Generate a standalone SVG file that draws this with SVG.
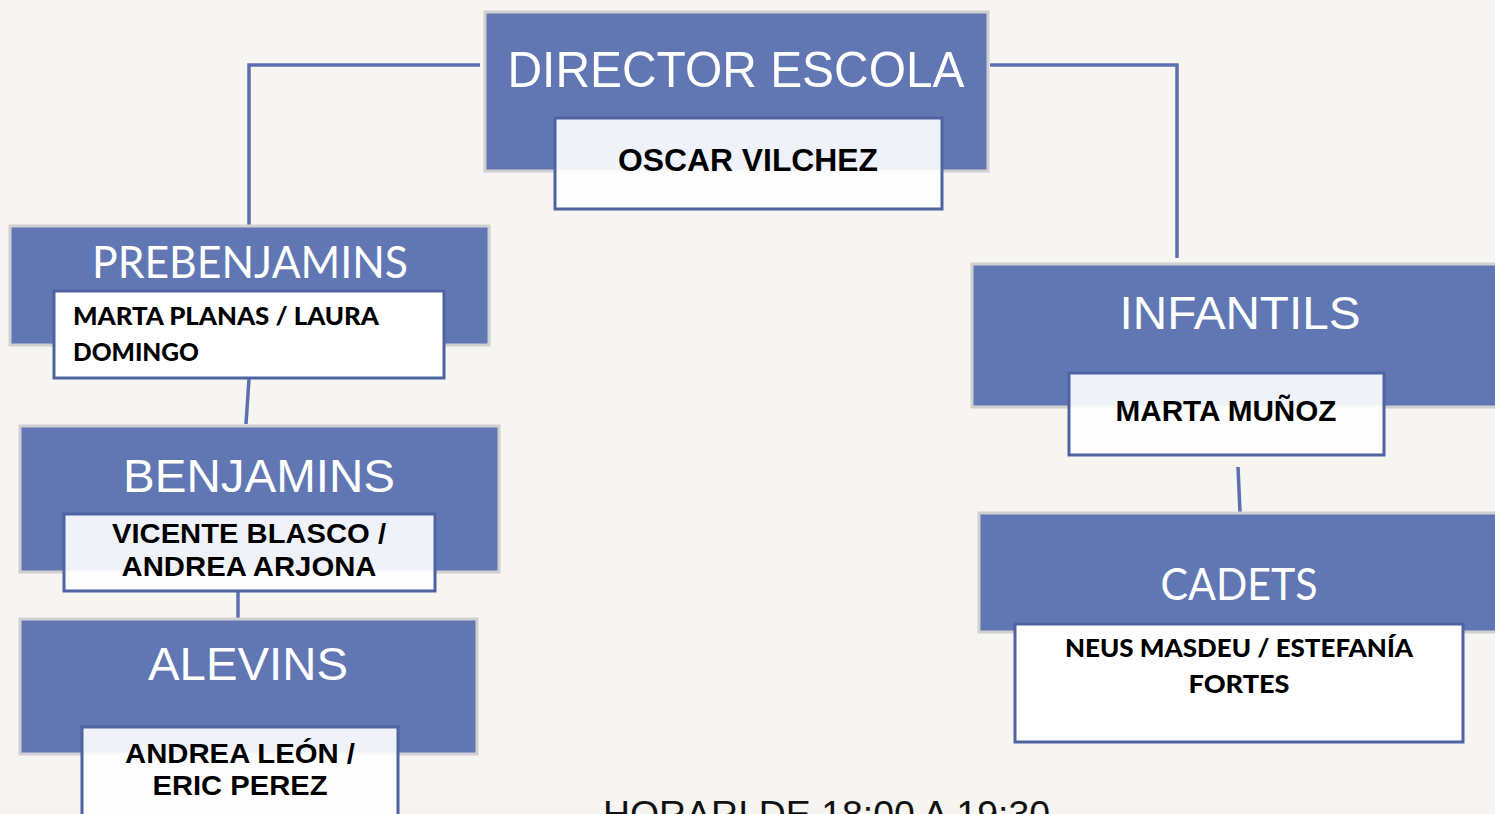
<svg xmlns="http://www.w3.org/2000/svg" width="1495" height="814" viewBox="0 0 1495 814">
<style>
.bg{fill:#f6f5f1}
.box{fill:#6077b4;stroke:#d0d0d0;stroke-width:3}
.inner{fill:#ffffff;fill-opacity:0.9;stroke:#4f63a3;stroke-width:3}
.innerS{fill:#ffffff;stroke:#4f63a3;stroke-width:3}
.conn{fill:none;stroke:#5b70b0;stroke-width:3.5}
.t1{font-family:"Liberation Sans",Arial,sans-serif;fill:#ffffff;text-anchor:middle}
.t2{font-family:Lato,"Noto Sans",sans-serif;font-weight:400;fill:#ffffff;text-anchor:middle}
.n1{font-family:"Liberation Sans",Arial,sans-serif;font-weight:bold;fill:#000000;text-anchor:middle}
.n2{font-family:Lato,"Noto Sans",sans-serif;font-weight:900;fill:#000000}
.foot{font-family:"Liberation Sans",Arial,sans-serif;fill:#111111}
</style>
<rect class="bg" x="0" y="0" width="1495" height="814"/>
<g id="connectors">
<polyline class="conn" points="480,65 249,65 249,226"/>
<polyline class="conn" points="990,65 1177,65 1177,258"/>
<line class="conn" x1="249" y1="379" x2="246" y2="424"/>
<line class="conn" x1="238" y1="591" x2="238" y2="619"/>
<line class="conn" x1="1238" y1="467" x2="1240" y2="512"/>
</g>
<g id="director">
<rect class="box" x="485" y="12" width="503" height="159"/>
<text class="t1" x="736" y="87" font-size="50" textLength="457" lengthAdjust="spacingAndGlyphs">DIRECTOR ESCOLA</text>
<rect class="inner" x="555" y="118" width="387" height="91"/>
<text class="n1" x="748" y="171" font-size="32" textLength="260" lengthAdjust="spacingAndGlyphs">OSCAR VILCHEZ</text>
</g>
<g id="prebenjamins">
<rect class="box" x="10" y="226" width="479" height="119"/>
<text class="t2" x="250" y="278" font-size="44" textLength="316" lengthAdjust="spacingAndGlyphs">PREBENJAMINS</text>
<rect class="innerS" x="54" y="291" width="390" height="87"/>
<text class="n2" x="73" y="325" font-size="25" textLength="306" lengthAdjust="spacingAndGlyphs">MARTA PLANAS / LAURA</text>
<text class="n2" x="73" y="361" font-size="25" textLength="126" lengthAdjust="spacingAndGlyphs">DOMINGO</text>
</g>
<g id="benjamins">
<rect class="box" x="20" y="426" width="479" height="146"/>
<text class="t1" x="259" y="492" font-size="47" textLength="272" lengthAdjust="spacingAndGlyphs">BENJAMINS</text>
<rect class="inner" x="64" y="514" width="371" height="77"/>
<text class="n1" x="249" y="543" font-size="28" textLength="274" lengthAdjust="spacingAndGlyphs">VICENTE BLASCO /</text>
<text class="n1" x="249" y="576" font-size="28" textLength="255" lengthAdjust="spacingAndGlyphs">ANDREA ARJONA</text>
</g>
<g id="alevins">
<rect class="box" x="20" y="619" width="457" height="135"/>
<text class="t1" x="248" y="680" font-size="47" textLength="200" lengthAdjust="spacingAndGlyphs">ALEVINS</text>
<rect class="inner" x="82" y="727" width="316" height="100"/>
<text class="n1" x="240" y="763" font-size="28" textLength="230" lengthAdjust="spacingAndGlyphs">ANDREA LEÓN /</text>
<text class="n1" x="240" y="795" font-size="28" textLength="175" lengthAdjust="spacingAndGlyphs">ERIC PEREZ</text>
</g>
<g id="infantils">
<rect class="box" x="972" y="264" width="530" height="143"/>
<text class="t1" x="1240" y="329" font-size="47" textLength="241" lengthAdjust="spacingAndGlyphs">INFANTILS</text>
<rect class="inner" x="1069" y="373" width="315" height="82"/>
<text class="n1" x="1226" y="421" font-size="29" textLength="221" lengthAdjust="spacingAndGlyphs">MARTA MUÑOZ</text>
</g>
<g id="cadets">
<rect class="box" x="979" y="513" width="523" height="119"/>
<text class="t2" x="1239" y="600" font-size="44" textLength="157" lengthAdjust="spacingAndGlyphs">CADETS</text>
<rect class="innerS" x="1015" y="624" width="448" height="118"/>
<text class="n2" x="1239" y="657" font-size="25" text-anchor="middle" textLength="348" lengthAdjust="spacingAndGlyphs">NEUS MASDEU / ESTEFANÍA</text>
<text class="n2" x="1239" y="693" font-size="25" text-anchor="middle" textLength="101" lengthAdjust="spacingAndGlyphs">FORTES</text>
</g>
<text class="foot" x="603" y="827" font-size="37" textLength="447" lengthAdjust="spacingAndGlyphs">HORARI DE 18:00 A 19:30</text>
</svg>
